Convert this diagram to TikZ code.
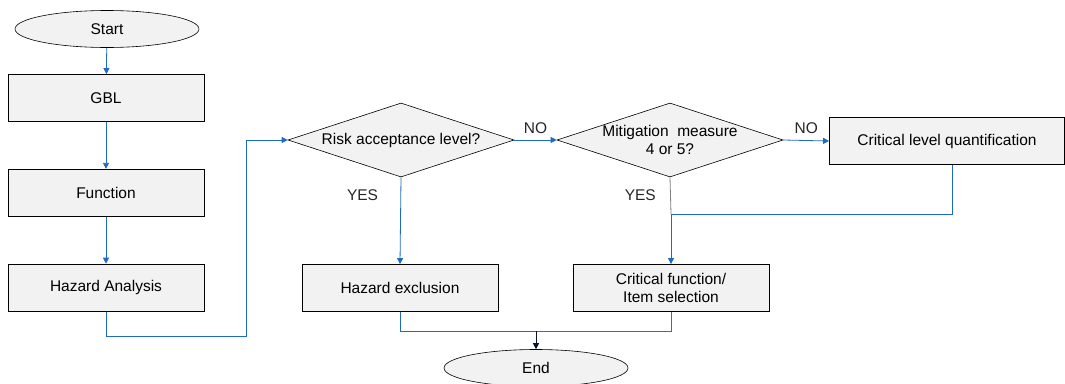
\documentclass[tikz,border=0pt]{standalone}
\usepackage{fontspec}
\setmainfont{Liberation Sans}
\usepackage{xcolor}
\usetikzlibrary{arrows.meta,positioning,shapes.geometric}

\definecolor{flowblue}{RGB}{31,106,196}
\definecolor{boxfill}{RGB}{242,242,242}

\begin{document}
\begin{tikzpicture}[
  x=1pt,y=-1pt,
  font=\fontsize{15.5}{18}\selectfont,
  box/.style={draw,fill=boxfill,line width=0.8pt,minimum width=196pt,minimum height=47pt,align=center},
  terminal/.style={draw,ellipse,fill=boxfill,line width=0.6pt,minimum width=184pt,minimum height=37pt},
  decision/.style={draw,diamond,fill=boxfill,line width=0.6pt,minimum width=226pt,minimum height=74pt,inner sep=0pt},
  arr/.style={-{Triangle[width=6pt,length=6pt]},draw=flowblue,line width=0.8pt},
  link/.style={draw=flowblue,line width=0.8pt},
  ans/.style={text=black!85}
]
  \useasboundingbox (0,0) rectangle (1065,383);

  \node[terminal] (start) at (107,29) {Start};
  \node[box] (gbl) at (106,98) {GBL};
  \node[box, below=47pt of gbl] (func) {Function};
  \node[box, below=47pt of func] (ha) {Hazard Analysis};

  \node[decision, label={[align=center]center:Risk acceptance level?}] (risk) at (401,140) {};
  \node[decision, label={[align=center]center:Mitigation\ \ measure\\4 or 5?}] (mitig) at (670,140) {};
  \node[box, minimum width=235pt] (crit) at (947,141) {Critical level quantification};

  \node[box] (hexcl) at (400,288) {Hazard exclusion};
  \node[box] (cfunc) at (671,288) {Critical function/\\Item selection};
  \node[terminal] (end) at (536,368) {End};

  \coordinate (hturn) at (246,336);
  \coordinate (merge) at (671,214);
  \coordinate (join) at (536,331);

  \draw[arr] (start) -- (gbl);
  \draw[arr] (gbl) -- (func);
  \draw[arr] (func) -- (ha);
  \draw[arr] (ha.south) |- (hturn) |- (risk.west);
  \draw[arr] (risk.east) -- node[ans, above=3pt] {NO} (mitig.west);
  \draw[arr] (mitig.east) -- node[ans, above=3pt] {NO} (crit.west);
  \draw[arr] (risk.south) -- node[ans, pos=0.21, left=19pt] {YES} (hexcl.north);
  \draw[gray, line width=0.8pt] (mitig.south) -- node[ans, pos=0.5, left=11pt] {YES} (merge);
  \draw[arr] (merge) -- (cfunc.north);
  \draw[link] ([xshift=5pt]crit.south) |- (merge);
  \draw[link] (hexcl.south) |- (join);
  \draw[gray!80!black, line width=0.8pt] (cfunc.south) |- (join);
  \draw[-{Triangle[width=6pt,length=6pt]}, draw=black!80!flowblue, line width=0.8pt] (join) -- (end.north);
\end{tikzpicture}
\end{document}
